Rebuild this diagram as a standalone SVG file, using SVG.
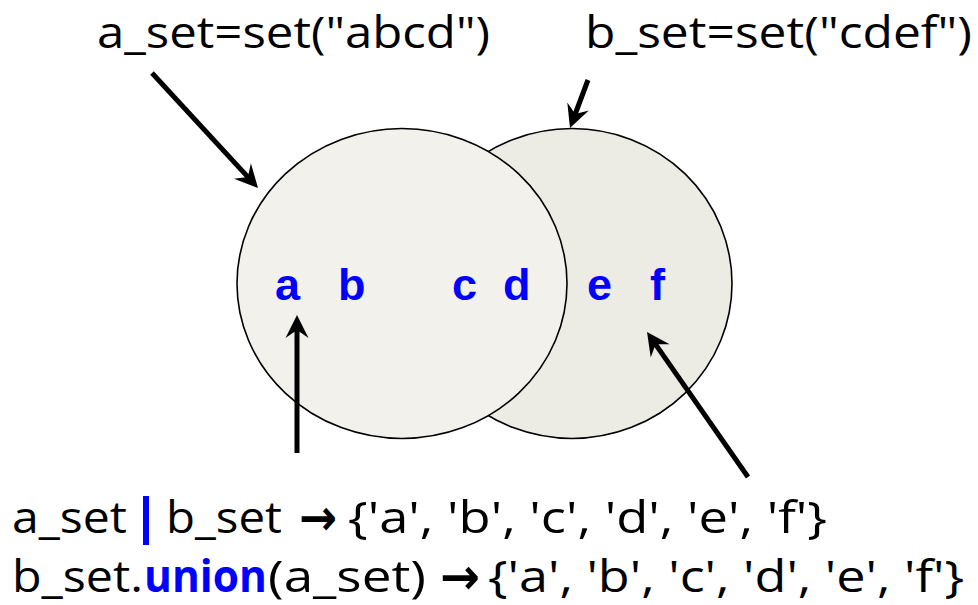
<svg xmlns="http://www.w3.org/2000/svg" width="978" height="605" viewBox="0 0 978 605">
<style>
.t{font-family:"Open Sans","Liberation Sans",sans-serif;font-size:44px;fill:#000}
.k{font-family:"Open Sans","Liberation Sans",sans-serif;font-size:44px;font-weight:bold;fill:#0000FF}
.ar{font-family:"DejaVu Sans",sans-serif;font-size:50px;font-weight:bold;fill:#000}
.el{font-family:"Liberation Sans",Arial,sans-serif;font-size:45px;font-weight:bold;fill:#0000FF}
.conn{stroke:#000;stroke-width:5;fill:none;marker-end:url(#ah)}
</style>
<defs>
<marker id="ah" markerUnits="userSpaceOnUse" orient="auto" refX="0" refY="0" markerWidth="40" markerHeight="40" overflow="visible">
<path d="M8,0 L-15,-11.5 L-7,0 L-15,11.5 Z" fill="#000"/>
</marker>
</defs>
<rect width="978" height="605" fill="#fff"/>
<g id="b_set">
<ellipse cx="572" cy="283.5" rx="160" ry="155" fill="#ECECE5" stroke="#000" stroke-width="1.6"/>
</g>
<g id="a_set">
<ellipse cx="402" cy="283.5" rx="165" ry="155" fill="#F3F1EC" stroke="#000" stroke-width="1.6"/>
</g>
<g id="elements">
<text class="el" x="275" y="300">a</text>
<text class="el" x="338" y="300">b</text>
<text class="el" x="452" y="300">c</text>
<text class="el" x="503" y="300">d</text>
<text class="el" x="587" y="300">e</text>
<text class="el" x="650" y="300">f</text>
</g>
<g id="label_a">
<text class="t" x="97" y="48" textLength="393" lengthAdjust="spacingAndGlyphs">a_set=set("abcd")</text>
</g>
<g id="label_b">
<text class="t" x="585" y="48" textLength="387" lengthAdjust="spacingAndGlyphs">b_set=set("cdef")</text>
</g>
<g id="expr1">
<text class="t" x="12" y="533" textLength="115" lengthAdjust="spacingAndGlyphs">a_set</text>
<rect x="143" y="496" width="6" height="49" fill="#0000FF"/>
<text class="t" x="166" y="533" textLength="116" lengthAdjust="spacingAndGlyphs">b_set</text>
<text class="ar" x="299" y="535" textLength="38" lengthAdjust="spacingAndGlyphs">→</text>
<text class="t" x="348" y="533" textLength="479" lengthAdjust="spacingAndGlyphs">{'a', 'b', 'c', 'd', 'e', 'f'}</text>
</g>
<g id="expr2">
<text class="t" x="12" y="592" textLength="131" lengthAdjust="spacingAndGlyphs">b_set.</text>
<text class="k" x="144" y="592" textLength="123" lengthAdjust="spacingAndGlyphs">union</text>
<text class="t" x="268" y="592" textLength="158" lengthAdjust="spacingAndGlyphs">(a_set)</text>
<text class="ar" x="440" y="594" textLength="40" lengthAdjust="spacingAndGlyphs">→</text>
<text class="t" x="488" y="592" textLength="476" lengthAdjust="spacingAndGlyphs">{'a', 'b', 'c', 'd', 'e', 'f'}</text>
</g>
<g id="connectors">
<line class="conn" x1="152" y1="73" x2="252.6" y2="182.1"/>
<line class="conn" x1="588" y1="80" x2="572.8" y2="120.5"/>
<line class="conn" x1="297" y1="453" x2="297" y2="323"/>
<line class="conn" x1="748" y1="477" x2="651.6" y2="338.6"/>
</g>
</svg>
